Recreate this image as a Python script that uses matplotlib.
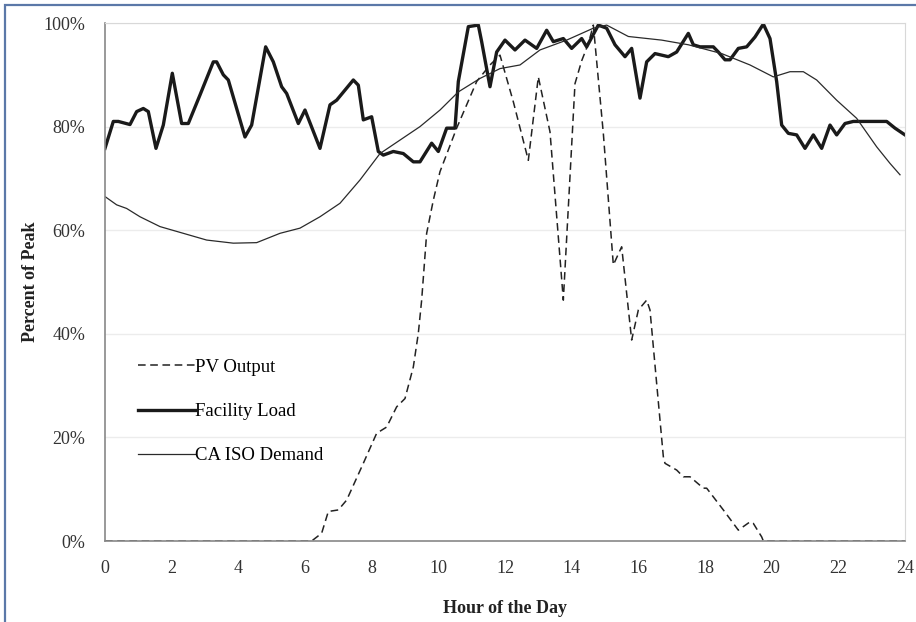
import numpy as np
import matplotlib.pyplot as plt
from matplotlib.patches import Rectangle

plt.rcParams['font.family'] = ['Liberation Serif', 'DejaVu Serif']

# facility load (hour, percent of peak)
load_hr = [0.0, 0.25, 0.4, 0.75, 0.95, 1.15, 1.3, 1.53, 1.75, 2.02, 2.3, 2.5, 2.85, 3.25, 3.35,
           3.55, 3.7, 4.2, 4.4, 4.82, 5.05, 5.3, 5.45, 5.8, 6.0, 6.45, 6.75, 6.95, 7.45, 7.6,
           7.75, 8.0, 8.2, 8.35, 8.65, 8.95, 9.25, 9.45, 9.8, 10.0, 10.25, 10.5, 10.6, 10.9,
           11.2, 11.3, 11.55, 11.75, 12.0, 12.3, 12.6, 12.95, 13.25, 13.45, 13.75, 14.0, 14.3,
           14.45, 14.8, 15.05, 15.3, 15.6, 15.8, 16.05, 16.25, 16.5, 16.9, 17.15, 17.5, 17.65,
           17.85, 18.25, 18.4, 18.6, 18.75, 19.0, 19.25, 19.5, 19.75, 19.95, 20.15, 20.3, 20.5,
           20.75, 21.0, 21.25, 21.5, 21.75, 21.95, 22.2, 22.45, 23.45, 23.7, 24.0]
load_pct = [75.8, 81, 81, 80.4, 82.9, 83.5, 82.9, 75.8, 80.3, 90.3, 80.6, 80.6, 86.1, 92.5, 92.5,
            90, 89, 78, 80.3, 95.4, 92.5, 87.7, 86.4, 80.6, 83.2, 75.8, 84.2, 85.1, 89, 88,
            81.3, 81.9, 75.2, 74.5, 75.2, 74.8, 73.2, 73.2, 76.8, 75.2, 79.7, 79.7, 88.7, 99.3,
            99.6, 96.4, 87.7, 94.4, 96.7, 94.8, 96.7, 95.1, 98.6, 96.4, 97, 95.1, 97,
            95.4, 99.6, 99, 95.8, 93.5, 95.1, 85.5, 92.5, 94.1, 93.5, 94.4, 98, 95.8,
            95.4, 95.4, 94.4, 92.9, 92.9, 95.1, 95.4, 97.3, 99.8, 97, 88.7, 80.3, 78.7,
            78.4, 75.8, 78.4, 75.8, 80.3, 78.4, 80.6, 81, 81, 79.7, 78.4]

# CA ISO demand
iso_hr = [0.0, 0.35, 0.65, 1.05, 1.65, 2.35, 3.05, 3.85, 4.55, 5.25, 5.85, 6.45, 7.05, 7.65,
          8.25, 8.85, 9.45, 10.05, 10.6, 11.25, 11.85, 12.45, 13.05, 13.85, 14.65, 15.05,
          15.7, 16.7, 17.5, 18.5, 19.35, 20.05, 20.55, 20.95, 21.35, 21.95, 22.55, 23.15,
          23.55, 23.85]
iso_pct = [66.5, 64.9, 64.2, 62.6, 60.7, 59.4, 58.1, 57.5, 57.6, 59.4, 60.4, 62.6, 65.2, 69.7,
           74.8, 77.4, 80, 83.2, 86.7, 89.3, 91.2, 91.9, 94.8, 96.7, 99, 99.6,
           97.4, 96.7, 95.8, 94.1, 91.9, 89.6, 90.6, 90.6, 89, 85.1, 81.6, 76.1,
           72.9, 70.7]

# PV output
pv_hr = [0.0, 6.2, 6.5, 6.7, 7.0, 7.25, 7.75, 8.15, 8.45, 8.75, 9.0, 9.25, 9.4, 9.5, 9.65,
         9.85, 10.05, 10.55, 11.15, 11.55, 11.85, 12.25, 12.7, 13.0, 13.35, 13.75, 14.1,
         14.3, 14.5, 14.65, 14.95, 15.25, 15.5, 15.8, 16.0, 16.25, 16.35, 16.55, 16.75,
         16.8, 17.15, 17.35, 17.55, 17.95, 18.05, 18.55, 19.0, 19.35, 19.45, 19.7, 19.75, 24.0]
pv_pct = [0, 0, 1.5, 5.7, 6, 7.9, 15, 20.8, 22, 25.9, 27.5, 33.6, 40.1, 46.5, 59.4,
          65.8, 71.3, 79.7, 88.7, 91.9, 93.8, 84.8, 73.5, 89.6, 79, 46.5, 88.3,
          92.7, 96, 99.6, 78.7, 53.3, 56.8, 38.8, 44.6, 46.5, 44.6, 30.4, 16.3,
          15, 13.7, 12.4, 12.4, 10.2, 10.2, 6, 2.1, 3.7, 3.4, 0.8, 0, 0]

fig = plt.figure(figsize=(9.16, 6.22), dpi=100)
ax = fig.add_axes([0.1146, 0.1302, 0.8734, 0.8328])

ax.plot(pv_hr, pv_pct, color='#222222', lw=1.1, dashes=(5, 3), label='PV Output')
ax.plot(load_hr, load_pct, color='#1a1a1a', lw=2.4, label='Facility Load')
ax.plot(iso_hr, iso_pct, color='#2a2a2a', lw=0.9, label='CA ISO Demand')

ax.set_xlim(0, 24)
ax.set_ylim(0, 100)
ax.set_xticks(range(0, 25, 2))
ax.set_yticks(range(0, 101, 20))
ax.set_yticklabels([f'{v}%' for v in range(0, 101, 20)])
ax.tick_params(axis='y', length=0, labelsize=13, colors='#333333', pad=14)
ax.tick_params(axis='x', length=0, labelsize=13, colors='#333333', pad=14)
ax.grid(axis='y', color='#ececec', lw=1)
ax.set_axisbelow(True)
for s in ['top', 'right']:
    ax.spines[s].set_color('#d8d8d8')
for s in ['left', 'bottom']:
    ax.spines[s].set_color('#888888')
    ax.spines[s].set_linewidth(1.2)

ax.set_xlabel('Hour of the Day', fontsize=13, fontweight='bold', color='#222222', labelpad=16)
ax.set_ylabel('Percent of Peak', fontsize=13, fontweight='bold', color='#222222', labelpad=3)

ax.legend(loc='upper left', bbox_to_anchor=(0.03, 0.37), frameon=False, fontsize=13.5,
          handlelength=3.0, handletextpad=0.0, labelspacing=1.45, borderpad=0)

fig.patches.append(Rectangle((5 / 916, -0.05), 1.2, 1 - 5 / 622 + 0.05, transform=fig.transFigure,
                             fill=False, edgecolor='#5b78a8', lw=1.6))

fig.savefig('out.png', dpi=100)
